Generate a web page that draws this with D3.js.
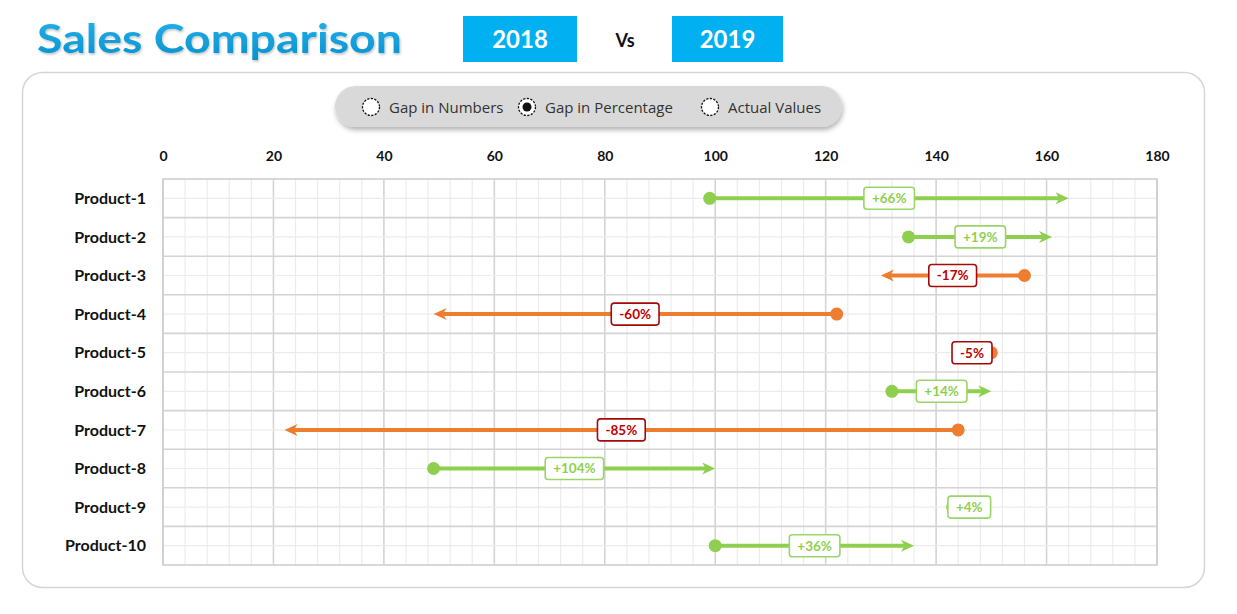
<!DOCTYPE html>
<html>
<head>
<meta charset="utf-8">
<script src="https://cdn.jsdelivr.net/npm/d3@7"></script>
<style>
  html, body { margin: 0; padding: 0; background: #ffffff; }
  svg { display: block; }
</style>
</head>
<body>
<svg id="chart" width="1237" height="614"></svg>
<script>
const products = ["Product-1","Product-2","Product-3","Product-4","Product-5","Product-6","Product-7","Product-8","Product-9","Product-10"];
const sales2018 = [99, 135, 156, 122, 150, 132, 144, 49, 143, 100];
const sales2019 = [164, 161, 130, 49, 143, 150, 22, 100, 149, 136];
const gapLabels = ["+66%","+19%","-17%","-60%","-5%","+14%","-85%","+104%","+4%","+36%"];
const xTicks = [0,20,40,60,80,100,120,140,160,180];
const radioOptions = ["Gap in Numbers","Gap in Percentage","Actual Values"];
const selectedOption = 1;
const years = ["2018","2019"];

const svg = d3.select("#chart");
const GREEN = "#8fcf4f", ORANGE = "#ed7d31", RED = "#c00000", BLUE = "#00b0f0";

// defs
const defs = svg.append("defs");
const sh = defs.append("filter").attr("id","shadow").attr("x","-10%").attr("y","-30%").attr("width","120%").attr("height","180%");
sh.append("feDropShadow").attr("dx",1).attr("dy",3).attr("stdDeviation",2.5).attr("flood-color","#000").attr("flood-opacity",0.3);
const tg = defs.append("linearGradient").attr("id","titleGrad").attr("x1",0).attr("y1",0).attr("x2",0).attr("y2",1);
tg.append("stop").attr("offset","0%").attr("stop-color","#22b5ee");
tg.append("stop").attr("offset","100%").attr("stop-color","#0a8fcc");
const ts = defs.append("filter").attr("id","tshadow");
ts.append("feDropShadow").attr("dx",1).attr("dy",1.5).attr("stdDeviation",1).attr("flood-color","#000").attr("flood-opacity",0.25);

// Title
svg.append("text").attr("x",37).attr("y",53)
  .attr("font-family","Lato, 'Open Sans', sans-serif").attr("font-weight","bold")
  .attr("font-size",41).attr("fill","url(#titleGrad)").attr("filter","url(#tshadow)")
  .attr("textLength",365).attr("lengthAdjust","spacingAndGlyphs")
  .text("Sales Comparison");

// Year boxes
const yearBoxes = [{x:463,w:114},{x:672,w:111}];
years.forEach((yv,i)=>{
  const b = yearBoxes[i];
  svg.append("rect").attr("x",b.x).attr("y",16).attr("width",b.w).attr("height",46).attr("fill",BLUE);
  svg.append("text").attr("x",b.x+b.w/2).attr("y",48).attr("text-anchor","middle")
    .attr("font-family","Lato, sans-serif").attr("font-weight","bold").attr("font-size",24)
    .attr("fill","#fff").text(yv);
});
svg.append("text").attr("x",625).attr("y",47).attr("text-anchor","middle")
  .attr("font-family","Lato, sans-serif").attr("font-weight","bold").attr("font-size",18)
  .attr("fill","#111").text("Vs");

// Container
svg.append("rect").attr("x",22.5).attr("y",72.5).attr("width",1182).attr("height",515).attr("rx",20)
  .attr("fill","#fff").attr("stroke","#d6d6d6").attr("stroke-width",1.5);

// Radio pill
svg.append("rect").attr("x",335).attr("y",86).attr("width",507).attr("height",41).attr("rx",20.5)
  .attr("fill","#d9d9d9").attr("filter","url(#shadow)");
const radioX = [371, 527, 710];
radioOptions.forEach((t,i)=>{
  svg.append("circle").attr("cx",radioX[i]).attr("cy",107).attr("r",8.5)
    .attr("fill","#fff").attr("stroke","#111").attr("stroke-width",1.3).attr("stroke-dasharray","2.2,1.4");
  if(i===selectedOption){
    svg.append("circle").attr("cx",radioX[i]).attr("cy",107).attr("r",4.5).attr("fill","#111");
  }
  svg.append("text").attr("x",radioX[i]+18).attr("y",112.5)
    .attr("font-family","'Open Sans', 'Noto Sans', sans-serif").attr("font-size",15)
    .attr("fill","#333").text(t);
});

// Scales
const x = d3.scaleLinear().domain([0,180]).range([163,1157]);
const y = d3.scaleBand().domain(products).range([179,565]);

const g = svg.append("g");
g.append("g").selectAll("line").data(d3.range(0,181,4)).join("line")
  .attr("x1",d=>x(d)).attr("x2",d=>x(d)).attr("y1",179).attr("y2",565)
  .attr("stroke",d=>d%20===0?"#d4d4d4":"#ececec").attr("stroke-width",d=>d%20===0?1.6:1.2);
g.append("g").selectAll("line").data(products).join("line")
  .attr("x1",163).attr("x2",1157)
  .attr("y1",d=>y(d)+y.bandwidth()/2).attr("y2",d=>y(d)+y.bandwidth()/2)
  .attr("stroke","#ececec").attr("stroke-width",1.2);
g.append("g").selectAll("line").data(products.slice(1)).join("line")
  .attr("x1",163).attr("x2",1157).attr("y1",d=>y(d)).attr("y2",d=>y(d))
  .attr("stroke","#d4d4d4").attr("stroke-width",1.6);
g.append("rect").attr("x",163).attr("y",179).attr("width",994).attr("height",386)
  .attr("fill","none").attr("stroke","#cfcfcf").attr("stroke-width",1.6);

// Top axis
const axis = d3.axisTop(x).tickValues(xTicks).tickSize(0).tickPadding(0);
const ag = svg.append("g").attr("transform","translate(0,161)").call(axis);
ag.select(".domain").remove();
ag.selectAll("text").attr("font-family","Lato, sans-serif").attr("font-weight","bold")
  .attr("font-size",14).attr("fill","#111");

// Product labels
const yAxis = d3.axisLeft(y).tickSize(0).tickPadding(0);
const yg = svg.append("g").attr("transform","translate(146,0)").call(yAxis);
yg.select(".domain").remove();
yg.selectAll("text").attr("font-family","Lato, sans-serif").attr("font-weight","bold")
  .attr("font-size",16).attr("fill","#111").attr("dy","0.35em");

// Data marks
const data = products.map((p,i)=>({p, a:sales2018[i], b:sales2019[i], lab:gapLabels[i]}));
const marks = svg.append("g");
data.forEach(d=>{
  const cy = y(d.p)+y.bandwidth()/2;
  const up = d.b >= d.a;
  const col = up ? GREEN : ORANGE;
  const x0 = x(d.a), x1 = x(d.b);
  const dir = up ? 1 : -1;
  const head = 13, hw = 6;
  const grp = marks.append("g");
  grp.append("line").attr("x1",x0).attr("x2",x1 - dir*head*0.7).attr("y1",cy).attr("y2",cy)
    .attr("stroke",col).attr("stroke-width",4);
  grp.append("path")
    .attr("d",`M${x1},${cy} L${x1-dir*head},${cy-hw} L${x1-dir*head*0.72},${cy} L${x1-dir*head},${cy+hw} Z`)
    .attr("fill",col);
  grp.append("circle").attr("cx",x0).attr("cy",cy).attr("r",6.5).attr("fill",col);
  const mid = (x0+x1)/2;
  const tcol = up ? GREEN : RED;
  const txt = grp.append("text").attr("x",mid).attr("y",cy+4.8).attr("text-anchor","middle")
    .attr("font-family","Lato, sans-serif").attr("font-weight","bold").attr("font-size",13.5)
    .attr("fill",tcol).text(d.lab);
  const w = txt.node().getComputedTextLength() + 16;
  grp.insert("rect","text").attr("x",mid-w/2).attr("y",cy-11).attr("width",w).attr("height",22).attr("rx",3)
    .attr("fill","#fff").attr("stroke",up?"#9bd46a":"#a50a0a").attr("stroke-width",1.6);
});
</script>
</body>
</html>
